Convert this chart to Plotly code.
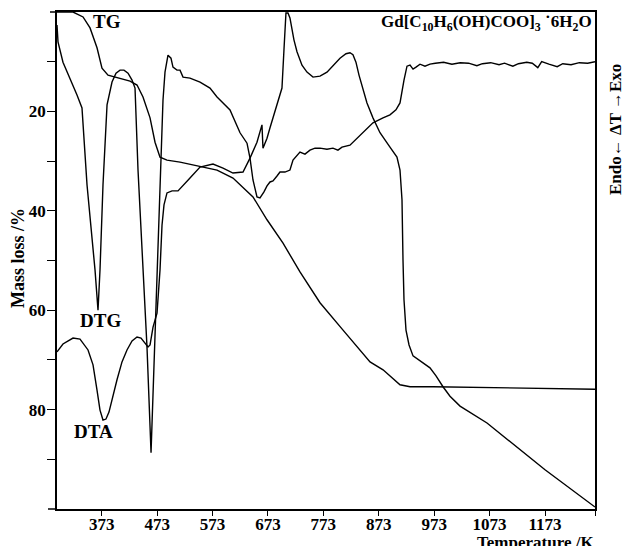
import plotly.graph_objects as go

# ---- data (Temperature /K, value on left axis scale) ----
tg_T = [292.3, 321.2, 339.3, 351.9, 364.5, 373.5, 384.4, 406.0, 424.1, 436.7, 447.5, 460.2,
        469.2, 478.2, 490.8, 514.3, 550.4, 581.1, 609.9, 646.0, 671.3, 700.2, 730.8, 766.9,
        808.5, 857.2, 880.7, 911.3, 929.4, 970.9, 1263.2]
tg_y = [0.0, 0.0, 1.0, 3.2, 7.2, 11.3, 12.7, 13.3, 13.9, 14.7, 17.1, 21.3,
        26.2, 29.2, 29.8, 30.2, 31.0, 31.8, 33.4, 37.2, 41.8, 46.5, 52.3, 58.5,
        64.0, 70.4, 72.0, 75.0, 75.4, 75.4, 75.9]

dtg_T = [292.3, 294.1, 303.1, 315.8, 328.4, 337.4, 341.0, 346.5, 360.9, 366.3, 369.9, 375.3,
         382.6, 391.6, 398.8, 406.0, 413.2, 420.5, 427.7, 433.1, 438.5, 447.5, 454.7, 462.0,
         469.2, 472.8, 478.2, 483.6, 487.2, 492.6, 498.0, 501.6, 508.8, 514.3, 519.7, 532.3,
         550.4, 568.4, 581.1, 604.5, 622.6, 635.2, 640.6, 646.0, 653.2, 658.6, 665.8, 671.3,
         676.7, 682.1, 689.3, 694.7, 703.7, 712.7, 718.2, 725.4, 730.8, 739.8, 748.8, 757.9,
         766.9, 779.5, 790.3, 799.3, 806.6, 821.0, 833.6, 844.5, 862.5, 880.6, 893.2, 904.0,
         911.3, 918.5, 923.9, 929.4, 934.8, 940.2, 947.4, 956.4, 965.4, 975, 990, 1005,
         1020, 1035, 1050, 1060, 1075, 1090, 1100, 1115, 1125, 1140, 1150, 1160, 1167,
         1180, 1195, 1205, 1220, 1235, 1250, 1263.2]
dtg_y = [2.6, 6.0, 10.1, 13.3, 16.7, 19.3, 25.8, 34.8, 51.9, 60.0, 51.9, 34.8,
         18.7, 14.1, 12.3, 11.7, 11.7, 12.3, 13.7, 15.3, 31.8, 51.9, 67.4, 88.7,
         66.0, 51.9, 34.8, 17.7, 12.1, 8.7, 9.3, 11.1, 11.7, 11.7, 13.1, 13.3,
         14.1, 15.3, 17.1, 19.7, 24.3, 26.4, 29.4, 33.8, 37.2, 37.4, 36.2, 35.0,
         34.2, 34.0, 33.0, 32.2, 32.2, 31.8, 29.8, 28.8, 28.2, 28.6, 27.8, 27.4,
         27.4, 27.6, 27.4, 27.8, 27.2, 26.8, 25.4, 24.1, 22.3, 21.3, 20.7, 19.7,
         18.3, 13.7, 10.9, 10.7, 11.5, 11.1, 10.5, 10.9, 10.5, 10.3, 10.1, 10.5,
         10.2, 10.3, 10.8, 10.4, 10.2, 10.6, 10.3, 10.9, 10.4, 10.1, 10.3, 11.2, 10.0,
         10.5, 11.0, 10.4, 10.6, 10.2, 10.3, 10.0]

dta_T = [292.3, 303.1, 321.2, 333.8, 348.3, 357.3, 364.5, 369.9, 375.3, 380.7, 386.1, 393.4,
         400.6, 409.6, 418.6, 427.7, 436.7, 443.9, 451.1, 456.6, 460.2, 465.6, 472.8, 478.2,
         481.8, 485.4, 490.8, 499.9, 510.7, 519.7, 532.3, 550.4, 573.8, 591.9, 609.9, 628.0,
         640.6, 653.2, 662.2, 664.0, 671.3, 676.7, 691.1, 698.3, 701.9, 705.5, 709.1, 712.7,
         719.9, 725.4, 734.4, 743.4, 754.3, 766.9, 779.5, 792.2, 803.0, 813.8, 821.0, 826.4,
         831.8, 837.3, 851.7, 862.5, 875.2, 893.2, 905.8, 911.3, 914.9, 916.7, 918.5, 922.1,
         927.6, 934.8, 951.0, 965.4, 976.3, 988.9, 1001.5, 1019.6, 1068.3, 1122.4, 1173.0, 1263.2]
dta_y = [68.4, 66.8, 65.6, 65.8, 68.0, 71.0, 76.1, 80.1, 82.1, 81.9, 80.5, 77.1,
         74.0, 70.4, 68.0, 66.2, 65.4, 65.6, 66.6, 67.4, 67.0, 63.4, 60.6, 51.9,
         42.9, 38.8, 36.4, 36.0, 36.0, 35.0, 33.4, 31.2, 30.6, 31.4, 32.4, 32.2,
         29.4, 26.2, 22.7, 27.4, 25.4, 23.3, 18.1, 15.3, 7.6, 0.2, 0.2, 1.2,
         5.6, 8.0, 10.7, 12.1, 13.1, 12.9, 12.1, 10.7, 9.3, 8.4, 8.2, 8.6,
         10.1, 12.7, 18.3, 21.3, 24.3, 27.2, 29.2, 31.8, 37.8, 49.9, 57.9, 64.0,
         67.0, 69.2, 70.4, 71.6, 73.2, 75.4, 77.3, 79.3, 82.7, 87.5, 92.1, 99.6]

x_ticks = [373, 473, 573, 673, 773, 873, 973, 1073, 1173]
y_ticks = [10, 20, 30, 40, 50, 60, 70, 80, 90]
y_ticklabels = ["", "20", "", "40", "", "60", "", "80", ""]
X_RANGE = [292.3, 1263.2]
Y_RANGE = [100, 0]

FONT = "Liberation Serif"
line = dict(color="black", width=1.4)

fig = go.Figure()
for xs, ys in [(tg_T, tg_y), (dtg_T, dtg_y), (dta_T, dta_y)]:
    fig.add_trace(go.Scatter(x=xs, y=ys, mode="lines", line=line,
                             hoverinfo="skip", showlegend=False))

W, H = 622, 546
L, R, T, B = 57, 27, 12, 37
pw, ph = W - L - R, H - T - B

def px(xp):
    return (xp - L) / pw

def py(yp):
    return 1 - (yp - T) / ph

bold = dict(family=FONT, size=17, color="black", weight="bold")
lab = dict(family=FONT, size=19, color="black", weight="bold")

annotations = [
    dict(text="TG", x=382.6, y=2.0, xref="x", yref="y", showarrow=False,
         xanchor="center", yanchor="middle", font=lab),
    dict(text="DTG", x=369.9, y=62.0, xref="x", yref="y", showarrow=False,
         xanchor="center", yanchor="middle", font=lab),
    dict(text="DTA", x=357.3, y=84.5, xref="x", yref="y", showarrow=False,
         xanchor="center", yanchor="middle", font=lab),
    dict(text="Gd[C<sub>10</sub>H<sub>6</sub>(OH)COO]<sub>3</sub> \u02d96H<sub>2</sub>O",
         x=px(594), y=py(10), xref="paper", yref="paper", xanchor="right", yanchor="top",
         showarrow=False, font=dict(family=FONT, size=17, color="black", weight="bold")),
    dict(text="Mass loss /%", x=px(18), y=py(258), xref="paper", yref="paper",
         xanchor="center", yanchor="middle", textangle=-90, showarrow=False,
         font=dict(family=FONT, size=18, color="black", weight="bold")),
    dict(text="Temperature /K", x=px(596), y=py(531), xref="paper", yref="paper",
         xanchor="right", yanchor="top", showarrow=False, font=bold),
    dict(text="Endo\u2190 \u0394T \u2192Exo", x=px(615), y=py(130), xref="paper", yref="paper",
         xanchor="center", yanchor="middle", textangle=-90, showarrow=False,
         font=dict(family=FONT, size=17, color="black", weight="bold")),
]

fig.update_layout(
    width=W, height=H,
    margin=dict(l=L, r=R, t=T, b=B, pad=0, autoexpand=False),
    paper_bgcolor="white", plot_bgcolor="white",
    annotations=annotations,
    shapes=[
        dict(type="line", xref="paper", yref="paper", x0=px(48), x1=0, y0=0, y1=0,
             line=dict(color="black", width=1.5)),
        dict(type="line", xref="paper", yref="paper", x0=px(50), x1=0, y0=1, y1=1,
             line=dict(color="black", width=1.5)),
    ],
)
fig.update_xaxes(range=X_RANGE, tickvals=x_ticks + [X_RANGE[1]],
                 ticktext=[str(v) for v in x_ticks] + [""],
                 ticks="outside", ticklen=5, tickwidth=1.3, tickcolor="black",
                 ticklabelstandoff=-6,
                 showline=True, linecolor="black", linewidth=1.5, mirror=True,
                 showgrid=False, zeroline=False, tickfont=bold, automargin=False)
fig.update_yaxes(range=Y_RANGE, tickvals=y_ticks, ticktext=y_ticklabels,
                 ticks="outside", ticklen=8, tickwidth=1.3, tickcolor="black",
                 ticklabelstandoff=-2,
                 showline=True, linecolor="black", linewidth=1.5, mirror=True,
                 showgrid=False, zeroline=False, tickfont=bold, automargin=False)

fig.write_html("out.html")
